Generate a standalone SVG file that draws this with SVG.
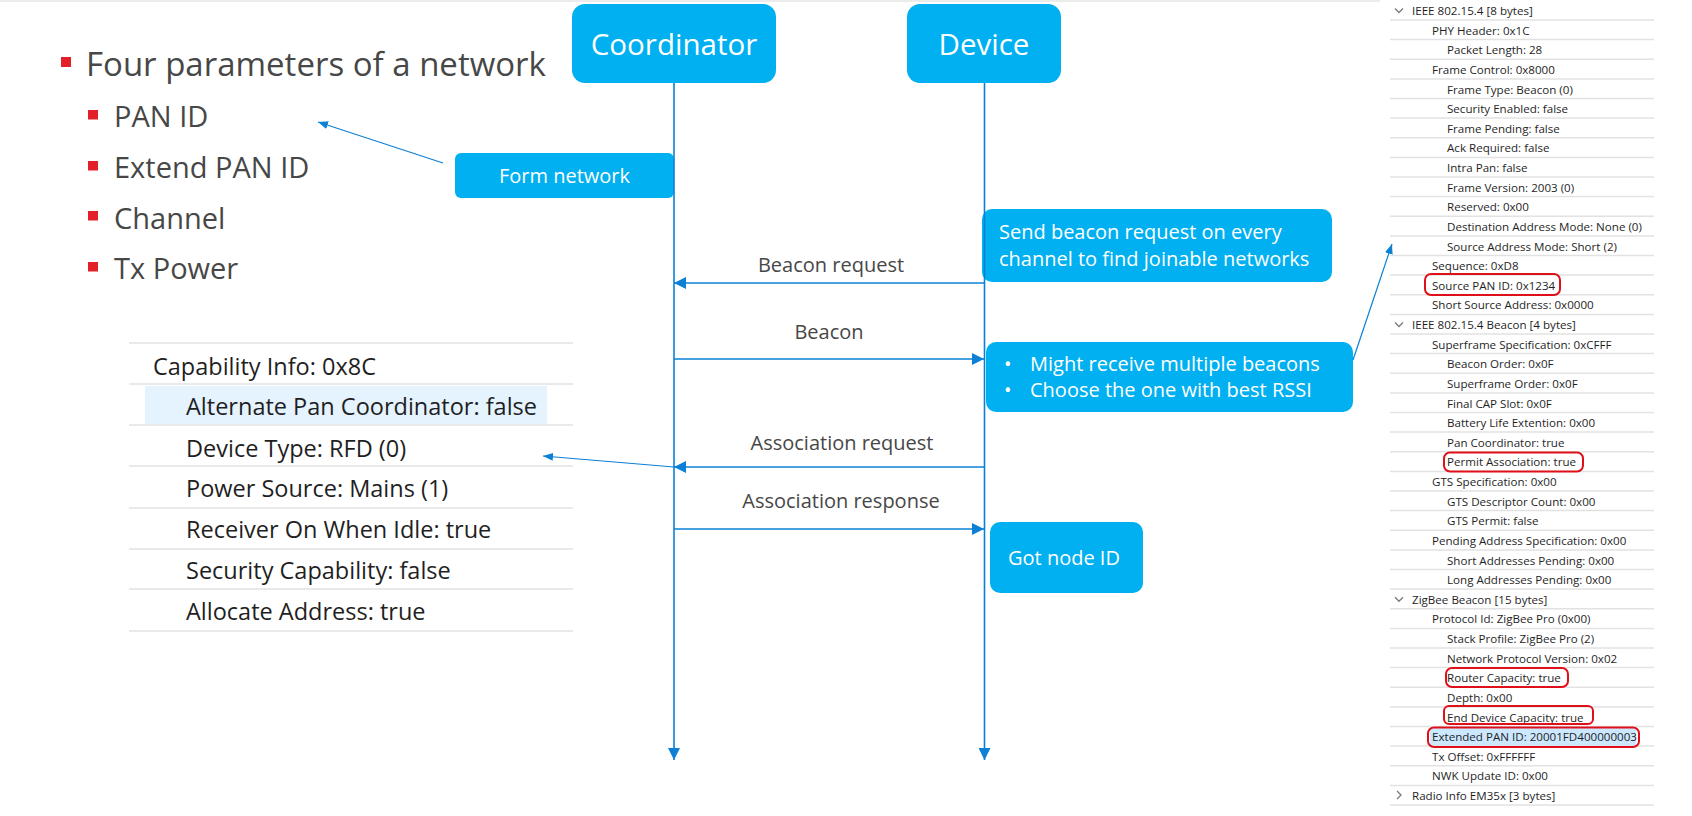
<svg xmlns="http://www.w3.org/2000/svg" width="1692" height="816" viewBox="0 0 1692 816">
<style>
.box{fill:#00B0F0}
.wt{fill:#ffffff;font-family:"Open Sans","Noto Sans",sans-serif}
.gt{fill:#474747;font-family:"Open Sans","Noto Sans",sans-serif}
.ct{fill:#1f1f1f;font-family:"Open Sans","Noto Sans",sans-serif;font-size:23.5px}
.pt{fill:#1f1f1f;font-family:"Open Sans","Noto Sans",sans-serif;font-size:11.6px}
.red{fill:#E3202A}
.ln{stroke:#0C80D6;stroke-width:1.6;fill:none}
.thin{stroke:#0C80D6;stroke-width:1.2;fill:none}
.rb{fill:none;stroke:#E0101A;stroke-width:2}
.sep{stroke:#e2e2e2;stroke-width:1.5;fill:none}
.chev{stroke:#7a7a7a;stroke-width:1.3;fill:none}
</style>
<defs>
<marker id="ah" markerUnits="userSpaceOnUse" viewBox="0 0 12 12" refX="12" refY="6" markerWidth="12" markerHeight="12" orient="auto">
<path d="M0,0 L12,6 L0,12 z" fill="#0C80D6"/>
</marker>
<marker id="ahs" markerUnits="userSpaceOnUse" viewBox="0 0 10 8" refX="10" refY="4" markerWidth="10" markerHeight="8" orient="auto">
<path d="M0,0 L10,4 L0,8 z" fill="#0C80D6"/>
</marker>
</defs>
<rect x="0" y="0" width="1692" height="816" fill="#ffffff"/>
<rect x="0" y="0" width="1380" height="2" fill="#ececec"/>

<g id="param-list">
<rect class="red" x="61" y="57" width="10" height="10"/>
<text class="gt" x="86" y="76" font-size="33">Four parameters of a network</text>
<rect class="red" x="88" y="110" width="10" height="9.5"/>
<text class="gt" x="114" y="127" font-size="29">PAN ID</text>
<rect class="red" x="88" y="161" width="10" height="9.5"/>
<text class="gt" x="114" y="178" font-size="29">Extend PAN ID</text>
<rect class="red" x="88" y="211" width="10" height="9.5"/>
<text class="gt" x="114" y="229" font-size="29">Channel</text>
<rect class="red" x="88" y="262" width="10" height="9.5"/>
<text class="gt" x="114" y="279" font-size="29">Tx Power</text>
</g>

<g id="coordinator">
<rect class="box" x="572" y="4" width="204" height="79" rx="13"/>
<text class="wt" x="674" y="55" font-size="29.5" text-anchor="middle">Coordinator</text>
</g>
<g id="device">
<rect class="box" x="907" y="4" width="154" height="79" rx="13"/>
<text class="wt" x="984" y="55" font-size="29.5" text-anchor="middle">Device</text>
</g>
<g id="form-network">
<rect class="box" x="455" y="153" width="219" height="45" rx="6"/>
<text class="wt" x="564.5" y="183" font-size="20" text-anchor="middle">Form network</text>
</g>
<g id="send-beacon">
<rect class="box" x="982" y="209" width="350" height="73" rx="10"/>
<text class="wt" x="999" y="239" font-size="20">Send beacon request on every</text>
<text class="wt" x="999" y="266" font-size="20">channel to find joinable networks</text>
</g>
<g id="might-receive">
<rect class="box" x="986" y="342" width="367" height="70" rx="10"/>
<text class="wt" x="1004" y="371" font-size="20">•</text>
<text class="wt" x="1030" y="371" font-size="20">Might receive multiple beacons</text>
<text class="wt" x="1004" y="397" font-size="20">•</text>
<text class="wt" x="1030" y="397" font-size="20">Choose the one with best RSSI</text>
</g>
<g id="got-node-id">
<rect class="box" x="990" y="522" width="153" height="71" rx="10"/>
<text class="wt" x="1008" y="565" font-size="20">Got node ID</text>
</g>

<g id="capability-panel">
<rect x="145" y="386" width="402" height="38" fill="#E5F3FF"/>
<path class="sep" d="M129 343H573M129 384H573M129 425H573M129 466H573M129 508H573M129 549H573M129 589H573M129 631H573" stroke-width="2"/>
<text class="ct" x="153" y="375">Capability Info: 0x8C</text>
<text class="ct" x="186" y="415">Alternate Pan Coordinator: false</text>
<text class="ct" x="186" y="457">Device Type: RFD (0)</text>
<text class="ct" x="186" y="497">Power Source: Mains (1)</text>
<text class="ct" x="186" y="538">Receiver On When Idle: true</text>
<text class="ct" x="186" y="579">Security Capability: false</text>
<text class="ct" x="186" y="620">Allocate Address: true</text>
</g>

<g id="packet-panel">
<rect x="1430" y="728" width="206" height="18" fill="#CCE8FF"/>
<path class="sep" d="M1390 20H1654M1390 39.6H1654M1390 59.3H1654M1390 78.9H1654M1390 98.5H1654M1390 118.1H1654M1390 137.8H1654M1390 157.4H1654M1390 177H1654M1390 196.6H1654M1390 216.3H1654M1390 235.9H1654M1390 255.5H1654M1390 275.1H1654M1390 294.8H1654M1390 314.4H1654M1390 334H1654M1390 353.6H1654M1390 373.3H1654M1390 392.9H1654M1390 412.5H1654M1390 432.1H1654M1390 451.8H1654M1390 471.4H1654M1390 491H1654M1390 510.6H1654M1390 530.3H1654M1390 549.9H1654M1390 569.5H1654M1390 589.1H1654M1390 608.8H1654M1390 628.4H1654M1390 648H1654M1390 667.6H1654M1390 687.3H1654M1390 706.9H1654M1390 726.5H1654M1390 746.1H1654M1390 765.8H1654M1390 785.4H1654M1390 805H1654"/>
<path class="chev" d="M1395 8.5L1399 12.5L1403 8.5M1395 322.5L1399 326.5L1403 322.5M1395 597.3L1399 601.3L1403 597.3M1397 791L1401 795L1397 799"/>
<text class="pt" x="1412" y="15">IEEE 802.15.4 [8 bytes]</text>
<text class="pt" x="1432" y="34.6">PHY Header: 0x1C</text>
<text class="pt" x="1447" y="54.3">Packet Length: 28</text>
<text class="pt" x="1432" y="73.9">Frame Control: 0x8000</text>
<text class="pt" x="1447" y="93.5">Frame Type: Beacon (0)</text>
<text class="pt" x="1447" y="113.1">Security Enabled: false</text>
<text class="pt" x="1447" y="132.8">Frame Pending: false</text>
<text class="pt" x="1447" y="152.4">Ack Required: false</text>
<text class="pt" x="1447" y="172">Intra Pan: false</text>
<text class="pt" x="1447" y="191.6">Frame Version: 2003 (0)</text>
<text class="pt" x="1447" y="211.3">Reserved: 0x00</text>
<text class="pt" x="1447" y="230.9">Destination Address Mode: None (0)</text>
<text class="pt" x="1447" y="250.5">Source Address Mode: Short (2)</text>
<text class="pt" x="1432" y="270.1">Sequence: 0xD8</text>
<text class="pt" x="1432" y="289.8">Source PAN ID: 0x1234</text>
<text class="pt" x="1432" y="309.4">Short Source Address: 0x0000</text>
<text class="pt" x="1412" y="329">IEEE 802.15.4 Beacon [4 bytes]</text>
<text class="pt" x="1432" y="348.6">Superframe Specification: 0xCFFF</text>
<text class="pt" x="1447" y="368.3">Beacon Order: 0x0F</text>
<text class="pt" x="1447" y="387.9">Superframe Order: 0x0F</text>
<text class="pt" x="1447" y="407.5">Final CAP Slot: 0x0F</text>
<text class="pt" x="1447" y="427.1">Battery Life Extention: 0x00</text>
<text class="pt" x="1447" y="446.8">Pan Coordinator: true</text>
<text class="pt" x="1447" y="466.4">Permit Association: true</text>
<text class="pt" x="1432" y="486">GTS Specification: 0x00</text>
<text class="pt" x="1447" y="505.6">GTS Descriptor Count: 0x00</text>
<text class="pt" x="1447" y="525.3">GTS Permit: false</text>
<text class="pt" x="1432" y="544.9">Pending Address Specification: 0x00</text>
<text class="pt" x="1447" y="564.5">Short Addresses Pending: 0x00</text>
<text class="pt" x="1447" y="584.1">Long Addresses Pending: 0x00</text>
<text class="pt" x="1412" y="603.8">ZigBee Beacon [15 bytes]</text>
<text class="pt" x="1432" y="623.4">Protocol Id: ZigBee Pro (0x00)</text>
<text class="pt" x="1447" y="643">Stack Profile: ZigBee Pro (2)</text>
<text class="pt" x="1447" y="662.6">Network Protocol Version: 0x02</text>
<text class="pt" x="1447" y="682.3">Router Capacity: true</text>
<text class="pt" x="1447" y="701.9">Depth: 0x00</text>
<text class="pt" x="1447" y="721.5">End Device Capacity: true</text>
<text class="pt" x="1432" y="741.1">Extended PAN ID: 20001FD400000003</text>
<text class="pt" x="1432" y="760.8">Tx Offset: 0xFFFFFF</text>
<text class="pt" x="1432" y="780.4">NWK Update ID: 0x00</text>
<text class="pt" x="1412" y="800">Radio Info EM35x [3 bytes]</text>
<rect class="rb" x="1425" y="274" width="135" height="21" rx="6"/>
<rect class="rb" x="1444" y="452.5" width="139" height="19" rx="6"/>
<rect class="rb" x="1446" y="668" width="122" height="19" rx="6"/>
<rect class="rb" x="1444" y="706" width="149" height="18" rx="5"/>
<rect class="rb" x="1428" y="727.5" width="211" height="19.5" rx="6"/>
</g>

<g id="connectors">
<line class="ln" x1="674" y1="83" x2="674" y2="760" marker-end="url(#ah)"/>
<line class="ln" x1="984.5" y1="83" x2="984.5" y2="760" marker-end="url(#ah)"/>
<line class="ln" x1="984" y1="283" x2="674" y2="283" marker-end="url(#ah)"/>
<line class="ln" x1="674" y1="359" x2="984" y2="359" marker-end="url(#ah)"/>
<line class="ln" x1="984" y1="467" x2="674" y2="467" marker-end="url(#ah)"/>
<line class="ln" x1="674" y1="529" x2="984" y2="529" marker-end="url(#ah)"/>
<line class="thin" x1="443" y1="163" x2="318" y2="122" marker-end="url(#ahs)"/>
<line class="thin" x1="674" y1="467" x2="543" y2="456" marker-end="url(#ahs)"/>
<line class="thin" x1="1353" y1="360" x2="1392" y2="244" marker-end="url(#ahs)"/>
<text class="gt" x="831" y="272" font-size="20" text-anchor="middle">Beacon request</text>
<text class="gt" x="829" y="339" font-size="20" text-anchor="middle">Beacon</text>
<text class="gt" x="842" y="450" font-size="20" text-anchor="middle">Association request</text>
<text class="gt" x="841" y="508" font-size="20" text-anchor="middle">Association response</text>
</g>
</svg>
